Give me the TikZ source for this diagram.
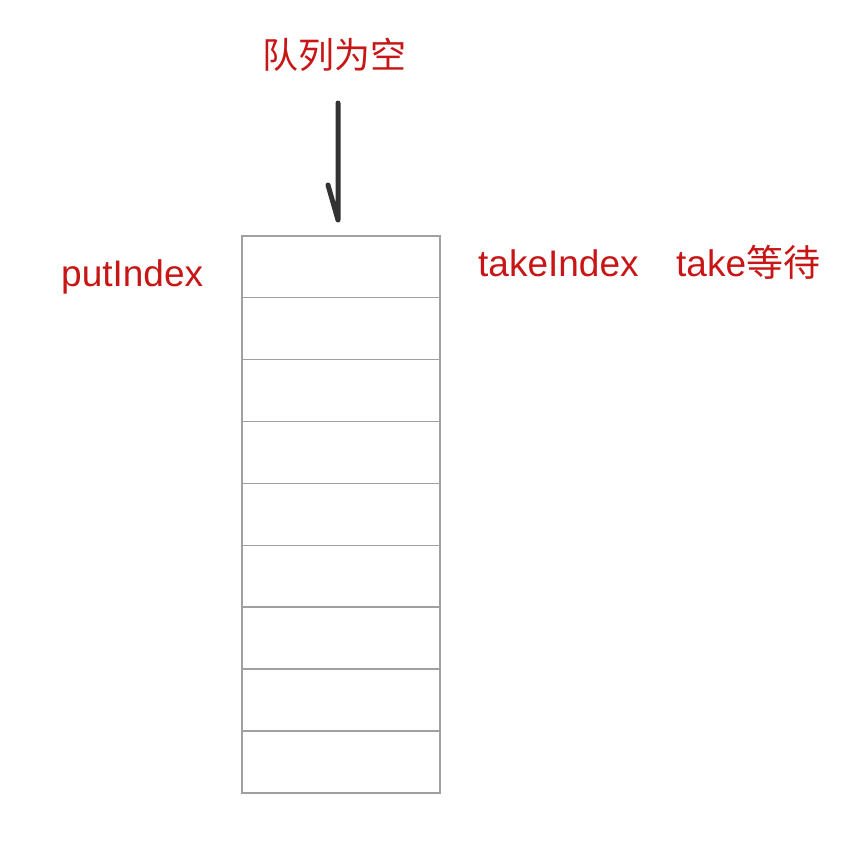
\documentclass[tikz,border=0pt]{standalone}
\usepackage{fontspec}
\setmainfont{Liberation Sans}
\newfontfamily\cjk{Noto Sans CJK SC}
\definecolor{lblred}{RGB}{200,22,22}
\definecolor{cellgray}{RGB}{160,160,160}
\definecolor{arrgray}{RGB}{51,51,51}
\begin{document}
\begin{tikzpicture}[x=1pt,y=-1pt,
  lbl/.style={text=lblred,font=\fontsize{37}{40}\selectfont,inner sep=0pt,anchor=base west},
  cell/.style={draw=cellgray,line width=1.5pt,minimum width=198pt,minimum height=61.9pt,inner sep=0pt,anchor=north west},
  pen/.style={draw=arrgray,line width=5pt,line cap=round,line join=round}]
\useasboundingbox (0,0) rectangle (850,862);
\foreach \i in {1,...,9}{
  \node[cell] (c\i) at (241,{235+(\i-1)*61.9}) {};
}
\node[text=lblred,font=\cjk\fontsize{36}{40}\selectfont,inner sep=0pt] (title) at (334,55) {队列为空};
\node[lbl] (put) at (61,286) {putIndex};
\node[lbl] (take) at (478,276) {takeIndex};
\node[lbl] (wait) at (676,276) {take{\cjk 等待}};
\coordinate (aTop) at (338,103);
\coordinate (aTip) at (338,220);
\coordinate (aBarb) at (328,185);
\draw[pen] (aTop) -- (aTip) -- (aBarb);
\end{tikzpicture}
\end{document}
